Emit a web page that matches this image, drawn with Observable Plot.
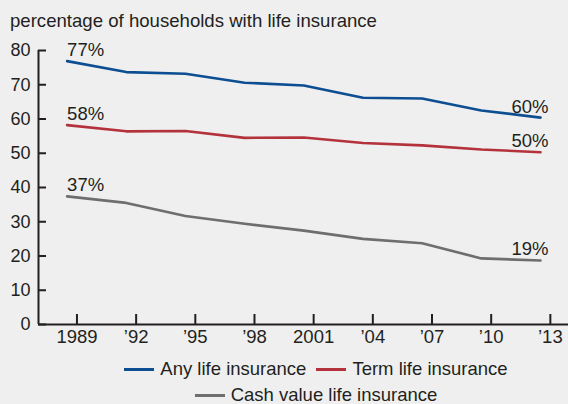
<!DOCTYPE html>
<html><head><meta charset="utf-8">
<script src="https://cdn.jsdelivr.net/npm/d3@7"></script>
<script src="https://cdn.jsdelivr.net/npm/@observablehq/plot@0.6"></script>
<style>
body{margin:0;background:#efefef;font-family:"Liberation Sans",Arial,Helvetica,sans-serif;color:#231f20;width:568px;height:404px;overflow:hidden;position:relative}
#title{position:absolute;left:10px;top:11px;font-size:18.6px;line-height:20px;white-space:nowrap}
#chart{position:absolute;left:0;top:36px}
#legend{position:absolute;top:356px;left:64px;width:504px;font-size:18.5px}
.row{display:flex;justify-content:center;align-items:center;height:26px}
.item{display:flex;align-items:center;margin:0 5px}
.sw{width:30px;height:3px;margin-right:6px}
</style></head>
<body>
<div id="title">percentage of households with life insurance</div>
<div id="chart"></div>
<div id="legend"></div>
<script>
const years = [1989, 1992, 1995, 1998, 2001, 2004, 2007, 2010, 2013];
const anyLife  = [76.9, 73.7, 73.2, 70.6, 69.8, 66.2, 66.0, 62.5, 60.4];
const termLife = [58.2, 56.4, 56.5, 54.5, 54.6, 53.0, 52.3, 51.1, 50.3];
const cashLife = [37.4, 35.5, 31.7, 29.4, 27.4, 25.0, 23.7, 19.3, 18.7];
const seriesNames = ["Any life insurance", "Term life insurance", "Cash value life insurance"];
const seriesColors = ["#0d4e93", "#b3323b", "#6e6e6e"];
const firstLabels = ["77%", "58%", "37%"];
const lastLabels = ["60%", "50%", "19%"];
const tickLabels = ["1989", "\u201992", "\u201995", "\u201998", "2001", "\u201904", "\u201907", "\u201910", "\u201913"];
const yTicks = [0, 10, 20, 30, 40, 50, 60, 70, 80];

const values = [anyLife, termLife, cashLife];
const rows = [];
values.forEach((vals, s) => vals.forEach((v, i) => rows.push({year: years[i], value: v, series: seriesNames[s]})));
const firsts = values.map((vals, s) => ({year: years[0], value: vals[0], series: seriesNames[s], label: firstLabels[s]}));
const lasts = values.map((vals, s) => ({year: years[years.length - 1], value: vals[vals.length - 1], series: seriesNames[s], label: lastLabels[s]}));

const xDomain = [1987.55, 2014.42];
const tickPos = years.map(y => y + 0.5);
const ink = "#231f20";

const chart = Plot.plot({
  width: 568, height: 316,
  marginLeft: 38, marginRight: 0, marginTop: 14, marginBottom: 28,
  style: {background: "transparent", fontFamily: "'Liberation Sans', Arial, sans-serif", fontSize: "18px", color: ink},
  x: {domain: xDomain},
  y: {domain: [0, 80]},
  color: {domain: seriesNames, range: seriesColors},
  marks: [
    Plot.ruleY([0], {stroke: ink, strokeWidth: 2}),
    Plot.ruleX([xDomain[0]], {y1: 0, y2: 80, stroke: ink, strokeWidth: 2}),
    Plot.axisY({ticks: yTicks, tickSize: -8, text: null, stroke: ink, strokeWidth: 2, label: null}),
    Plot.axisY({ticks: yTicks, tickSize: 0, tickPadding: 8, fill: ink, label: null, fontSize: 18}),
    Plot.axisX({ticks: tickPos, tickSize: -10, text: null, stroke: ink, strokeWidth: 2, label: null}),
    Plot.axisX({ticks: tickPos, tickSize: 0, tickPadding: 5, tickFormat: (d, i) => tickLabels[i], fill: ink, label: null, fontSize: 18.5}),
    Plot.line(rows, {x: "year", y: "value", z: "series", stroke: "series", strokeWidth: 2.6}),
    Plot.text(firsts, {x: "year", y: "value", text: "label", textAnchor: "start", lineAnchor: "bottom", dy: -5, fill: ink, fontSize: 18.5}),
    Plot.text(lasts, {x: "year", y: "value", text: "label", textAnchor: "end", lineAnchor: "bottom", dy: -5, dx: 8, fill: ink, fontSize: 18.5})
  ]
});
document.getElementById("chart").appendChild(chart);

const legend = document.getElementById("legend");
const layout = [[0, 1], [2]];
layout.forEach(r => {
  const row = document.createElement("div");
  row.className = "row";
  r.forEach(s => {
    const it = document.createElement("div");
    it.className = "item";
    it.innerHTML = `<span class="sw" style="background:${seriesColors[s]}"></span><span>${seriesNames[s]}</span>`;
    row.appendChild(it);
  });
  legend.appendChild(row);
});
</script>
</body></html>
